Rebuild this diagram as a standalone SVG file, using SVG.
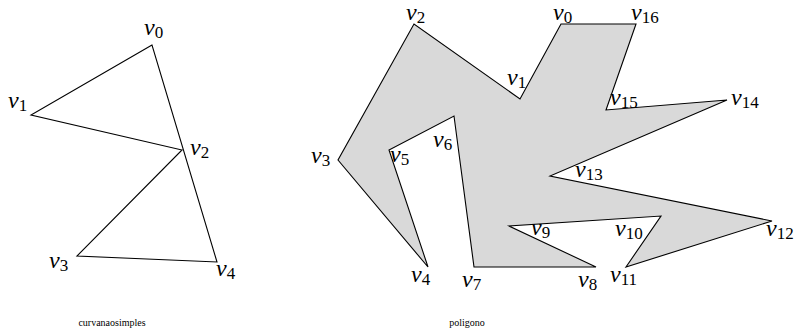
<svg xmlns="http://www.w3.org/2000/svg" width="803" height="336" viewBox="0 0 803 336">
<style>
.v{font-family:"Liberation Serif",serif;font-style:italic;font-size:24px;fill:#000}
.s{font-style:normal;font-size:17px}
.cap{font-family:"Liberation Serif",serif;font-size:10px;fill:#000}
.edge{fill:none;stroke:#000;stroke-width:1.1;stroke-linejoin:miter}
.poly{fill:#d9d9d9;stroke:#000;stroke-width:1.1;stroke-linejoin:miter}
</style>
<rect width="803" height="336" fill="#fff"/>
<g id="connectors">
<polygon class="edge" points="152,45 31,115 182,150 77,256 217,262"/>
<polygon class="poly" points="561,24 520,99 414,24 338,160 428,267 389,150 454,116 474,267 596,267 509,226 661,216 626,267 772,221 550,176 727,100 606,110 636,24"/>
</g>
<g id="left-labels">
<g id="l-v0"><text class="v" x="144" y="35">v<tspan class="s" dy="3">0</tspan></text></g>
<g id="l-v1"><text class="v" x="8" y="108">v<tspan class="s" dy="3">1</tspan></text></g>
<g id="l-v2"><text class="v" x="190" y="155">v<tspan class="s" dy="3">2</tspan></text></g>
<g id="l-v3"><text class="v" x="49" y="268">v<tspan class="s" dy="3">3</tspan></text></g>
<g id="l-v4"><text class="v" x="216" y="276">v<tspan class="s" dy="3">4</tspan></text></g>
</g>
<g id="right-labels">
<g id="r-v0"><text class="v" x="553" y="20">v<tspan class="s" dy="3">0</tspan></text></g>
<g id="r-v16"><text class="v" x="631" y="20">v<tspan class="s" dy="3">16</tspan></text></g>
<g id="r-v1"><text class="v" x="507" y="85">v<tspan class="s" dy="3">1</tspan></text></g>
<g id="r-v2"><text class="v" x="406" y="20">v<tspan class="s" dy="3">2</tspan></text></g>
<g id="r-v3"><text class="v" x="311" y="163">v<tspan class="s" dy="3">3</tspan></text></g>
<g id="r-v4"><text class="v" x="411" y="282">v<tspan class="s" dy="3">4</tspan></text></g>
<g id="r-v5"><text class="v" x="390" y="162">v<tspan class="s" dy="3">5</tspan></text></g>
<g id="r-v6"><text class="v" x="433" y="147">v<tspan class="s" dy="3">6</tspan></text></g>
<g id="r-v7"><text class="v" x="462" y="287">v<tspan class="s" dy="3">7</tspan></text></g>
<g id="r-v8"><text class="v" x="578" y="287">v<tspan class="s" dy="3">8</tspan></text></g>
<g id="r-v9"><text class="v" x="531" y="235">v<tspan class="s" dy="3">9</tspan></text></g>
<g id="r-v10"><text class="v" x="615" y="236">v<tspan class="s" dy="3">10</tspan></text></g>
<g id="r-v11"><text class="v" x="610" y="282">v<tspan class="s" dy="3">11</tspan></text></g>
<g id="r-v12"><text class="v" x="766" y="236">v<tspan class="s" dy="3">12</tspan></text></g>
<g id="r-v13"><text class="v" x="575" y="177">v<tspan class="s" dy="3">13</tspan></text></g>
<g id="r-v14"><text class="v" x="731" y="105">v<tspan class="s" dy="3">14</tspan></text></g>
<g id="r-v15"><text class="v" x="610" y="105">v<tspan class="s" dy="3">15</tspan></text></g>
</g>
<g id="captions">
<text class="cap" x="112" y="326" text-anchor="middle">curvanaosimples</text>
<text class="cap" x="467" y="326" text-anchor="middle">poligono</text>
</g>
</svg>
